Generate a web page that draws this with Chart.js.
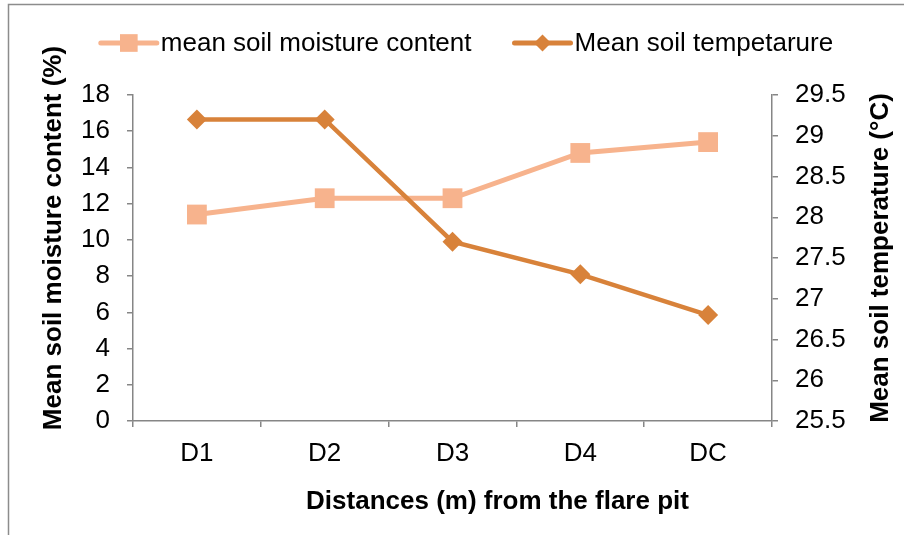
<!DOCTYPE html>
<html>
<head>
<meta charset="utf-8">
<script src="https://cdn.jsdelivr.net/npm/chart.js@4.4.1/dist/chart.umd.min.js"></script>
<style>
  html, body { margin: 0; padding: 0; background: #fff; }
  #wrap { position: relative; width: 904px; height: 535px; }
</style>
</head>
<body>
<div id="wrap"><canvas id="myChart" width="904" height="535"></canvas></div>
<script>
// Data
const distances = ["D1", "D2", "D3", "D4", "DC"];
const moisture = [11.4, 12.3, 12.3, 14.8, 15.4];
const temperature = [29.2, 29.2, 27.7, 27.3, 26.8];
const moistureTicks = [0, 2, 4, 6, 8, 10, 12, 14, 16, 18];
const tempTicks = [25.5, 26, 26.5, 27, 27.5, 28, 28.5, 29, 29.5];
const xTitle = "Distances (m) from the flare pit";
const leftTitle = "Mean soil moisture content (%)";
const rightTitle = "Mean soil temperature (°C)";

const FONT = "'Liberation Sans', Arial, sans-serif";
const AXIS = "#868686";

// gray frame of the original figure (left and top edge only)
const framePlugin = {
  id: "frame",
  beforeDraw(chart) {
    const c = chart.ctx;
    c.save();
    c.strokeStyle = "#8c8c8c";
    c.lineWidth = 1.5;
    c.beginPath();
    c.moveTo(8.5, chart.height);
    c.lineTo(8.5, 4.5);
    c.lineTo(chart.width, 4.5);
    c.stroke();
    c.restore();
  },
};

// axis titles, placed like in the Excel original (not centred on the plot)
function drawTitle(c, text, x, y, rot) {
  c.save();
  c.translate(x, y);
  c.rotate(rot);
  c.font = "bold 26px " + FONT;
  c.fillStyle = "#000";
  c.textAlign = "center";
  c.textBaseline = "middle";
  c.fillText(text, 0, 0);
  c.restore();
}

const titlesPlugin = {
  id: "axisTitles",
  afterDraw(chart) {
    const a = chart.chartArea;
    const midX = (a.left + a.right) / 2;
    const midY = (a.top + a.bottom) / 2;
    drawTitle(chart.ctx, xTitle, midX + 45, 502, 0);
    drawTitle(chart.ctx, leftTitle, 54, midY - 20, -Math.PI / 2);
    drawTitle(chart.ctx, rightTitle, chart.scales.y1.right - 17, midY, -Math.PI / 2);
  },
};

// Excel-like legend: line segment with marker in the middle
const legendPlugin = {
  id: "lineLegend",
  afterDraw(chart) {
    const c = chart.ctx;
    const sets = chart.data.datasets;
    const lineLen = 56, gapText = 4, gapItem = 43, y = 43;
    c.save();
    c.font = "26px " + FONT;
    const widths = sets.map((ds) => lineLen + gapText + c.measureText(ds.label).width);
    const total = widths.reduce((a, b) => a + b, 0) + gapItem * (sets.length - 1);
    let x = 467 - total / 2;
    sets.forEach((ds, k) => {
      c.strokeStyle = ds.borderColor;
      c.lineWidth = 5;
      c.lineCap = "round";
      c.beginPath();
      c.moveTo(x, y);
      c.lineTo(x + lineLen, y);
      c.stroke();
      c.fillStyle = ds.pointBackgroundColor;
      Chart.helpers.drawPoint(c, {
        pointStyle: ds.pointStyle,
        radius: ds.pointStyle === "rect" ? 12.5 : 8.5,
        rotation: 0,
        borderWidth: 0,
      }, x + lineLen / 2, y);
      c.fillStyle = "#000";
      c.textBaseline = "middle";
      c.textAlign = "left";
      c.fillText(ds.label, x + lineLen + gapText, y + 1);
      x += widths[k] + gapItem;
    });
    c.restore();
  },
};

const ctx = document.getElementById("myChart");

const axisGrid = {
  display: true,
  drawOnChartArea: false,
  drawTicks: true,
  tickLength: 6,
  color: AXIS,
  lineWidth: 1.5,
};

new Chart(ctx, {
  type: "line",
  data: {
    labels: distances,
    datasets: [
      {
        label: "mean soil moisture content",
        data: moisture,
        yAxisID: "y",
        borderColor: "#F7B38D",
        backgroundColor: "#F7B38D",
        pointBackgroundColor: "#F7B38D",
        pointBorderWidth: 0,
        pointStyle: "rect",
        pointRadius: 14,
        borderWidth: 5,
        tension: 0,
        fill: false,
        order: 1,
      },
      {
        label: "Mean soil tempetarure",
        data: temperature,
        yAxisID: "y1",
        borderColor: "#D8823A",
        backgroundColor: "#D8823A",
        pointBackgroundColor: "#D8823A",
        pointBorderWidth: 0,
        pointStyle: "rectRot",
        pointRadius: 10,
        borderWidth: 4.5,
        tension: 0,
        fill: false,
        order: 0,
      },
    ],
  },
  options: {
    responsive: false,
    animation: false,
    events: [],
    layout: {
      padding: { left: 10, top: 95, right: 6, bottom: 0 },
    },
    plugins: {
      legend: { display: false },
      tooltip: { enabled: false },
    },
    scales: {
      x: {
        offset: true,
        afterFit: (s) => { s.height = 114; },
        grid: Object.assign({ offset: true }, axisGrid),
        border: { color: AXIS, width: 1.5 },
        ticks: {
          color: "#000",
          padding: 11,
          font: { family: FONT, size: 26 },
        },
        title: { display: false },
      },
      y: {
        position: "left",
        min: moistureTicks[0],
        max: moistureTicks[moistureTicks.length - 1],
        afterBuildTicks: (s) => { s.ticks = moistureTicks.map((v) => ({ value: v })); },
        afterFit: (s) => { s.width = 123; },
        grid: axisGrid,
        border: { color: AXIS, width: 1.5 },
        ticks: {
          color: "#000",
          padding: 17,
          font: { family: FONT, size: 26 },
        },
        title: { display: false },
      },
      y1: {
        position: "right",
        min: tempTicks[0],
        max: tempTicks[tempTicks.length - 1],
        afterBuildTicks: (s) => { s.ticks = tempTicks.map((v) => ({ value: v })); },
        afterFit: (s) => { s.width = 126; },
        grid: axisGrid,
        border: { color: AXIS, width: 1.5 },
        ticks: {
          color: "#000",
          padding: 17,
          font: { family: FONT, size: 26 },
          callback: (v) => String(v),
        },
        title: { display: false },
      },
    },
  },
  plugins: [framePlugin, legendPlugin, titlesPlugin],
});
</script>
</body>
</html>
